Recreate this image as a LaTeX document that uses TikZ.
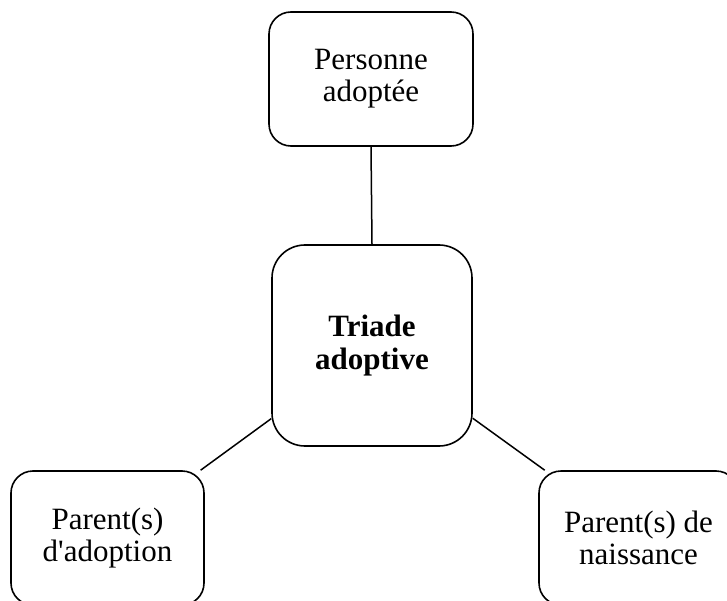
\documentclass[tikz,border=0pt]{standalone}
\usepackage{fontspec}
\setmainfont{Liberation Serif}
\newfontfamily\plainserif{Liberation Serif}
\begin{document}
\begin{tikzpicture}[x=1bp,y=-1bp,
  box/.style={draw=black, line width=1.6bp, fill=white, rounded corners=22bp,
    inner sep=0pt, align=center,
    font=\plainserif\fontsize{31bp}{32bp}\selectfont},
  link/.style={draw=black, line width=1.5bp}]
\clip (0,0) rectangle (727,601);
\fill[white] (0,0) rectangle (727,601);
\node[box, minimum width=204bp, minimum height=134bp] (top) at (371,79) {Personne\\adoptée};
\node[box, minimum width=200bp, minimum height=201bp, rounded corners=33bp,
  font=\plainserif\fontsize{31bp}{33bp}\selectfont\bfseries] (ctr) at (372,345.5) {Triade\\adoptive};
\node[box, minimum width=193bp, minimum height=134bp] (bl) at (107.5,538) {Parent(s)\\d'adoption};
\node[box, minimum width=199bp, minimum height=134bp] (br) at (638.5,538) {Parent(s) de\\naissance};
\draw[link] (top.south) -- (ctr.north);
\draw[link] (ctr) -- (bl);
\draw[link] (ctr) -- (br);
\end{tikzpicture}
\end{document}
